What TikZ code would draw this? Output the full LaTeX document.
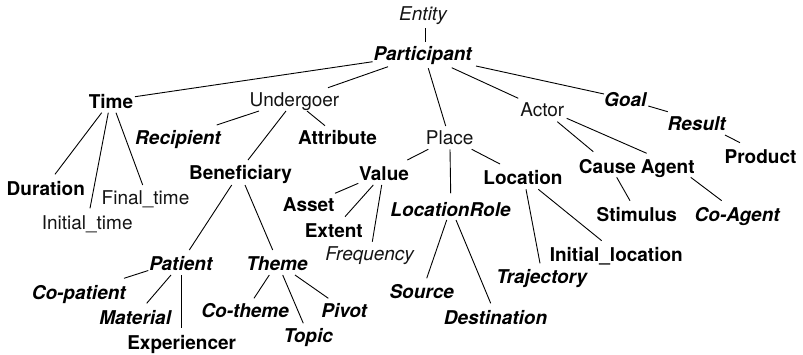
\documentclass[tikz,border=0pt]{standalone}
\usepackage{fontspec}
\setmainfont{TeX Gyre Heros}
\begin{document}
\begin{tikzpicture}[x=1pt,y=-1pt,
  lbl/.style={inner sep=0pt, anchor=base, text=black},
  rg/.style={lbl, font=\fontsize{19}{22}\selectfont, text={black!92}},
  ri/.style={lbl, font=\fontsize{19}{22}\selectfont\itshape, text={black!92}},
  bd/.style={lbl, font=\fontsize{19}{22}\selectfont\bfseries},
  bi/.style={lbl, font=\fontsize{19}{22}\selectfont\bfseries\itshape},
  edge/.style={line width=0.9pt, black}]
\useasboundingbox (0,0) rectangle (803,354);
% nodes (x centre, baseline)
\node[ri] (entity) at (423,20.7) {Entity};
\node[bi] (participant) at (422.7,60) {Participant};
\node[bd] (time) at (111,108) {Time};
\node[rg] (undergoer) at (294.5,106) {Undergoer};
\node[bi] (recipient) at (178,144.6) {Recipient};
\node[bd] (attribute) at (337.5,144.5) {Attribute};
\node[bd] (beneficiary) at (240.5,179.5) {Beneficiary};
\node[rg] (place) at (449.7,144.5) {Place};
\node[rg] (actor) at (542.3,116) {Actor};
\node[bi] (goal) at (625.3,106.3) {Goal};
\node[bi] (result) at (696.7,130.5) {Result};
\node[bd] (product) at (760.5,163.5) {Product};
\node[bd] (value) at (384,180) {Value};
\node[bd] (location) at (523,184) {Location};
\node[bd] (cause) at (607.5,173) {Cause};
\node[bd] (agent) at (667.8,173) {Agent};
\node[bd] (duration) at (45.8,195) {Duration};
\node[rg] (finaltime) at (145.5,204) {Final\_time};
\node[rg] (initialtime) at (87.2,229) {Initial\_time};
\node[bd] (asset) at (308.7,211.7) {Asset};
\node[bd] (extent) at (333.8,237) {Extent};
\node[ri] (frequency) at (369.7,260.3) {Frequency};
\node[bi] (locationrole) at (450.5,216) {LocationRole};
\node[bd] (stimulus) at (636.7,221) {Stimulus};
\node[bi] (coagent) at (737.2,221) {Co-Agent};
\node[bd] (initiallocation) at (616.3,261) {Initial\_location};
\node[bi] (trajectory) at (541.7,283.5) {Trajectory};
\node[bi] (source) at (421.7,298.5) {Source};
\node[bi] (destination) at (495.5,324.5) {Destination};
\node[bi] (patient) at (180.8,270) {Patient};
\node[bi] (theme) at (277,270) {Theme};
\node[bi] (copatient) at (78.8,299) {Co-patient};
\node[bi] (material) at (135.2,324) {Material};
\node[bd] (experiencer) at (181.7,349.5) {Experiencer};
\node[bi] (cotheme) at (245.2,317) {Co-theme};
\node[bi] (topic) at (308.3,342) {Topic};
\node[bi] (pivot) at (344.2,317) {Pivot};
% connectors
\draw[edge] ([shift={(2,7.6)}]entity.base) -- ([shift={(2.3,-18.3)}]participant.base);
\draw[edge] ([shift={(-50,1.7)}]participant.base) -- ([shift={(24,-11.3)}]time.base);
\draw[edge] ([shift={(-34.7,6.7)}]participant.base) -- ([shift={(33.5,-18.3)}]undergoer.base);
\draw[edge] ([shift={(5.6,8.3)}]participant.base) -- ([shift={(-4,-18.5)}]place.base);
\draw[edge] ([shift={(29,7.7)}]participant.base) -- ([shift={(-24,-17.7)}]actor.base);
\draw[edge] ([shift={(53.3,6)}]participant.base) -- ([shift={(-21.3,-12.3)}]goal.base);
\draw[edge] ([shift={(-9.3,4.7)}]time.base) -- ([shift={(9.2,-20.7)}]duration.base);
\draw[edge] ([shift={(-2.7,4.7)}]time.base) -- ([shift={(2.8,-20.7)}]initialtime.base);
\draw[edge] ([shift={(5,4.7)}]time.base) -- ([shift={(-2.8,-19)}]finaltime.base);
\draw[edge] ([shift={(-35.5,5)}]undergoer.base) -- ([shift={(38.7,-19.6)}]recipient.base);
\draw[edge] ([shift={(-8.5,5)}]undergoer.base) -- ([shift={(7.5,-19.5)}]beneficiary.base);
\draw[edge] ([shift={(12.5,5)}]undergoer.base) -- ([shift={(-12.5,-18.8)}]attribute.base);
\draw[edge] ([shift={(-8.8,5.5)}]beneficiary.base) -- ([shift={(8.5,-20)}]patient.base);
\draw[edge] ([shift={(4.5,5.5)}]beneficiary.base) -- ([shift={(-4.3,-20)}]theme.base);
\draw[edge] ([shift={(-32.5,0.5)}]patient.base) -- ([shift={(45.2,-20.7)}]copatient.base);
\draw[edge] ([shift={(-9.8,5)}]patient.base) -- ([shift={(11.5,-20.7)}]material.base);
\draw[edge] ([shift={(0.9,5)}]patient.base) -- ([shift={(0,-21.2)}]experiencer.base);
\draw[edge] ([shift={(-7.7,5)}]theme.base) -- ([shift={(8.8,-18.7)}]cotheme.base);
\draw[edge] ([shift={(5.7,5)}]theme.base) -- ([shift={(-5,-18.7)}]topic.base);
\draw[edge] ([shift={(18,5)}]theme.base) -- ([shift={(-15.9,-18.7)}]pivot.base);
\draw[edge] ([shift={(-21.4,4.8)}]place.base) -- ([shift={(23.3,-20)}]value.base);
\draw[edge] ([shift={(0.3,4.8)}]place.base) -- ([shift={(0.2,-22.7)}]locationrole.base);
\draw[edge] ([shift={(22,4.8)}]place.base) -- ([shift={(-23,-20)}]location.base);
\draw[edge] ([shift={(-25.7,3.3)}]value.base) -- ([shift={(26.3,-18.4)}]asset.base);
\draw[edge] ([shift={(-10.7,5)}]value.base) -- ([shift={(11.2,-20.3)}]extent.base);
\draw[edge] ([shift={(-2.3,5)}]value.base) -- ([shift={(2.6,-18.6)}]frequency.base);
\draw[edge] ([shift={(-3.8,4)}]locationrole.base) -- ([shift={(5,-20.2)}]source.base);
\draw[edge] ([shift={(5.5,4)}]locationrole.base) -- ([shift={(-4.8,-21.2)}]destination.base);
\draw[edge] ([shift={(3,5.3)}]location.base) -- ([shift={(-1.7,-20.2)}]trajectory.base);
\draw[edge] ([shift={(15.3,5.3)}]location.base) -- ([shift={(-14.6,-20.3)}]initiallocation.base);
\draw[edge] ([shift={(15,5.7)}]actor.base) -- ([shift={(-14.2,-21.3)}]cause.base);
\draw[edge] ([shift={(24.4,2.3)}]actor.base) -- ([shift={(-21.1,-19.7)}]agent.base);
\draw[edge] ([shift={(23,-0.3)}]goal.base) -- ([shift={(-29,-18.8)}]result.base);
\draw[edge] ([shift={(28.3,4.5)}]result.base) -- ([shift={(-20.5,-20.8)}]product.base);
\draw[edge] ([shift={(9.2,4.3)}]cause.base) -- ([shift={(-6.7,-20.3)}]stimulus.base);
\draw[edge] ([shift={(22.9,4.3)}]agent.base) -- ([shift={(-15.5,-20.3)}]coagent.base);
\end{tikzpicture}
\end{document}
